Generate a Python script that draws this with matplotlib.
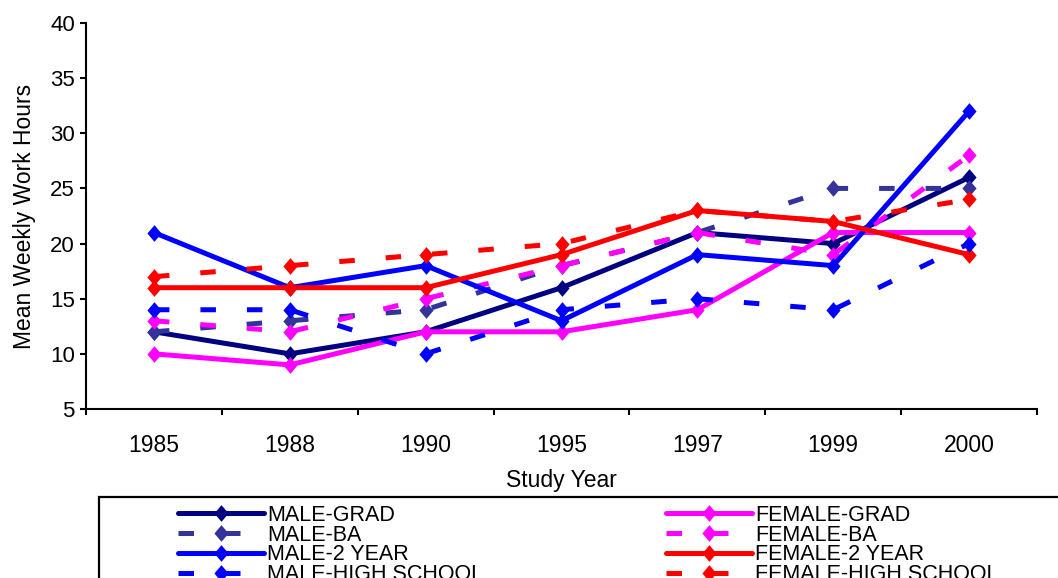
import matplotlib
matplotlib.use("Agg")
import matplotlib.pyplot as plt
from matplotlib.patches import Rectangle
import numpy as np

plt.rcParams['font.family'] = ['Liberation Sans', 'DejaVu Sans']

# Data
years = ['1985', '1988', '1990', '1995', '1997', '1999', '2000']

male_grad = [12, 10, 12, 16, 21, 20, 26]
male_ba = [12, 13, 14, 18, 21, 25, 25]
male_2year = [21, 16, 18, 13, 19, 18, 32]
male_hs = [14, 14, 10, 14, 15, 14, 20]
female_grad = [10, 9, 12, 12, 14, 21, 21]
female_ba = [13, 12, 15, 18, 21, 19, 28]
female_2year = [16, 16, 16, 19, 23, 22, 19]
female_hs = [17, 18, 19, 20, 23, 22, 24]

male_series = [
    ('MALE-GRAD', male_grad, '#000080', 'solid'),
    ('MALE-BA', male_ba, '#333399', 'dash'),
    ('MALE-2 YEAR', male_2year, '#0000FF', 'solid'),
    ('MALE-HIGH SCHOOL', male_hs, '#0000FF', 'dash'),
]
female_series = [
    ('FEMALE-GRAD', female_grad, '#FF00FF', 'solid'),
    ('FEMALE-BA', female_ba, '#FF00FF', 'dash'),
    ('FEMALE-2 YEAR', female_2year, '#FF0000', 'solid'),
    ('FEMALE-HIGH SCHOOL', female_hs, '#FF0000', 'dash'),
]

diamond = [(0, 1), (0.85, 0), (0, -1), (-0.85, 0), (0, 1)]

fig = plt.figure(figsize=(10.58, 5.78), dpi=100)
ax = fig.add_axes([86 / 1058, 1 - 409 / 578, 951 / 1058, 386 / 578])

x = np.arange(len(years))


def draw(name, vals, color, style):
    if style == 'solid':
        ls = '-'
    else:
        ls = (0, (3.1, 6.2))
    line, = ax.plot(x, vals, color=color, linestyle=ls, linewidth=3.6,
                    marker=diamond, markersize=12, markeredgewidth=0,
                    solid_capstyle='round', dash_capstyle='butt',
                    label=name, clip_on=False)
    return line


male_lines = []
female_lines = []
for m, f in zip(male_series, female_series):
    male_lines.append(draw(*m))
    female_lines.append(draw(*f))

ax.set_xlim(-0.5, len(years) - 0.5)
ax.set_ylim(5, 40)
ax.set_yticks(np.arange(5, 41, 5))
ax.set_xticks(x)
ax.set_xticklabels(years)
ax.set_xticks(np.arange(-0.5, len(years), 1), minor=True)

ax.tick_params(axis='x', which='major', length=0, pad=18, labelsize=16.5)
ax.tick_params(axis='x', which='minor', length=4, width=1.5, direction='out')
ax.tick_params(axis='y', length=4, width=1.5, direction='out', pad=4, labelsize=16)

for s in ['top', 'right']:
    ax.spines[s].set_visible(False)
for s in ['left', 'bottom']:
    ax.spines[s].set_linewidth(1.5)

ax.set_xlabel('Study Year', fontsize=16.5, labelpad=9)
ax.set_ylabel('Mean Weekly Work Hours', fontsize=16.5, labelpad=10)

# Legend frame (runs off the figure edge like the original)
box = Rectangle((99 / 1058, -0.2), 1.0, 0.2 + (578 - 497) / 578,
                transform=fig.transFigure, fill=False, edgecolor='black',
                linewidth=1.6, clip_on=False)
fig.patches.append(box)

leg_kw = dict(loc='upper left', frameon=False, fontsize=15.5, borderpad=0,
              borderaxespad=0, handlelength=4.0, handletextpad=0.15,
              labelspacing=-0.06)
leg1 = fig.legend(handles=male_lines, bbox_to_anchor=(178 / 1058, 1 - 505 / 578), **leg_kw)
leg2 = fig.legend(handles=female_lines, bbox_to_anchor=(666 / 1058, 1 - 505 / 578), **leg_kw)

fig.savefig('out.png', dpi=100)
